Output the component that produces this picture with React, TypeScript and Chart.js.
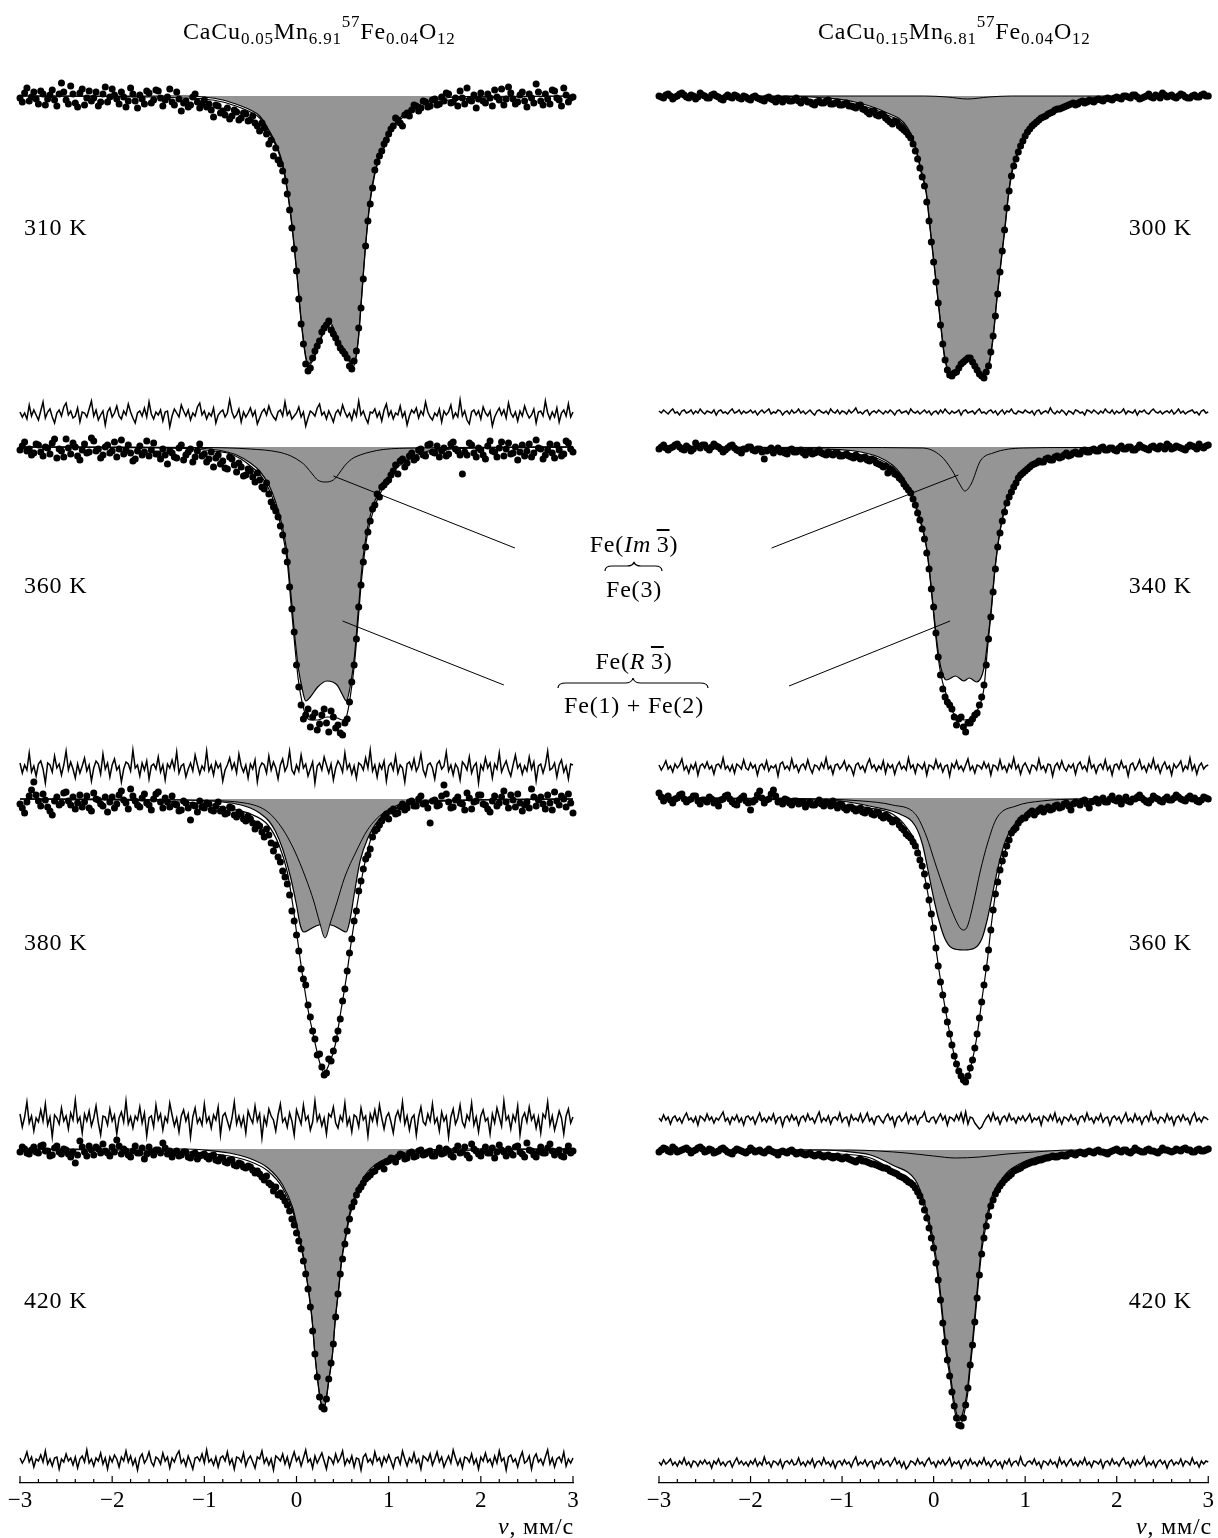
import React, { useEffect, useRef } from "react";
import { Chart, registerables } from "chart.js";

Chart.register(...registerables);

const FONT = '"Liberation Serif", "Times New Roman", serif';
const GRAY = "#959595";

// ---------- data ----------
// velocity channels, mm/s
const VELOCITY = [
  -3,-2.975,-2.95,-2.925,-2.9,-2.875,-2.85,-2.825,-2.8,-2.775,-2.75,-2.725,-2.7,-2.675,-2.65,-2.625,-2.6,-2.575,-2.55,-2.525,
  -2.5,-2.475,-2.45,-2.425,-2.4,-2.375,-2.35,-2.325,-2.3,-2.275,-2.25,-2.225,-2.2,-2.175,-2.15,-2.125,-2.1,-2.075,-2.05,-2.025,
  -2,-1.975,-1.95,-1.925,-1.9,-1.875,-1.85,-1.825,-1.8,-1.775,-1.75,-1.725,-1.7,-1.675,-1.65,-1.625,-1.6,-1.575,-1.55,-1.525,
  -1.5,-1.475,-1.45,-1.425,-1.4,-1.375,-1.35,-1.325,-1.3,-1.275,-1.25,-1.225,-1.2,-1.175,-1.15,-1.125,-1.1,-1.075,-1.05,-1.025,
  -1,-0.975,-0.95,-0.925,-0.9,-0.875,-0.85,-0.825,-0.8,-0.775,-0.75,-0.725,-0.7,-0.675,-0.65,-0.625,-0.6,-0.575,-0.55,-0.525,
  -0.5,-0.475,-0.45,-0.425,-0.4,-0.375,-0.35,-0.325,-0.3,-0.275,-0.25,-0.225,-0.2,-0.175,-0.15,-0.125,-0.1,-0.075,-0.05,-0.025,
  0,0.025,0.05,0.075,0.1,0.125,0.15,0.175,0.2,0.225,0.25,0.275,0.3,0.325,0.35,0.375,0.4,0.425,0.45,0.475,
  0.5,0.525,0.55,0.575,0.6,0.625,0.65,0.675,0.7,0.725,0.75,0.775,0.8,0.825,0.85,0.875,0.9,0.925,0.95,0.975,
  1,1.025,1.05,1.075,1.1,1.125,1.15,1.175,1.2,1.225,1.25,1.275,1.3,1.325,1.35,1.375,1.4,1.425,1.45,1.475,
  1.5,1.525,1.55,1.575,1.6,1.625,1.65,1.675,1.7,1.725,1.75,1.775,1.8,1.825,1.85,1.875,1.9,1.925,1.95,1.975,
  2,2.025,2.05,2.075,2.1,2.125,2.15,2.175,2.2,2.225,2.25,2.275,2.3,2.325,2.35,2.375,2.4,2.425,2.45,2.475,
  2.5,2.525,2.55,2.575,2.6,2.625,2.65,2.675,2.7,2.725,2.75,2.775,2.8,2.825,2.85,2.875,2.9,2.925,2.95,2.975,
  3,
];

const TEMPS_LEFT = ["310 K", "360 K", "380 K", "420 K"];
const TEMPS_RIGHT = ["300 K", "340 K", "360 K", "420 K"];

const FORMULA_LEFT: [string, string][] = [["CaCu", ""], ["0.05", "sub"], ["Mn", ""], ["6.91", "sub"], ["57", "sup"], ["Fe", ""], ["0.04", "sub"], ["O", ""], ["12", "sub"]];
const FORMULA_RIGHT: [string, string][] = [["CaCu", ""], ["0.15", "sub"], ["Mn", ""], ["6.81", "sub"], ["57", "sup"], ["Fe", ""], ["0.04", "sub"], ["O", ""], ["12", "sub"]];

// measured absorption (relative units x0.01), one value per channel
const L1_DOTS = [
  2,6,-3,-8,5,1,-4,3,8,-5,-2,9,3,-1,-6,4,10,-2,-13,-4,
  4,8,-10,-2,7,11,-3,-7,9,2,-5,5,2,-4,10,6,-2,-9,6,1,
  -7,-1,3,8,-4,1,11,5,-8,-2,5,12,-1,3,8,-5,-3,7,4,-6,
  -5,2,10,4,1,-7,6,9,-4,3,15,7,5,11,9,1,-2,6,12,8,
  4,11,8,14,21,9,10,17,15,19,12,23,20,14,16,24,22,17,18,25,
  24,20,27,30,35,27,32,38,48,44,60,52,64,68,75,85,98,114,132,153,
  175,203,228,248,268,275,272,262,255,250,245,236,232,229,225,234,238,242,247,252,
  255,258,262,270,273,265,255,232,212,183,150,125,108,92,74,66,60,55,48,44,
  38,33,30,22,24,27,30,19,17,20,14,9,10,15,12,5,6,11,10,4,
  3,9,8,1,5,-3,-2,7,6,2,10,-5,2,8,-8,4,5,-1,12,3,
  -3,5,7,-2,2,10,-6,1,4,-7,9,3,-9,-3,3,8,6,-1,-4,5,
  11,-2,2,7,-12,-4,5,9,-2,3,8,-6,-5,2,4,10,-8,-1,6,2,
  1];
const L2_DOTS = [
  3,-1,-5,4,2,8,6,-3,-2,5,9,0,1,7,-4,-8,11,2,4,10,
  -8,1,7,-4,0,9,13,3,-3,6,5,-9,-6,4,2,11,8,0,-2,6,
  4,-5,10,2,-7,7,3,-2,6,14,12,4,-1,8,5,-6,9,3,-4,7,
  7,12,2,8,17,4,6,10,11,1,-2,13,8,5,2,15,10,4,-3,9,
  7,15,12,5,20,11,8,17,14,21,22,10,12,18,25,16,20,29,28,22,
  24,30,35,26,33,40,42,36,47,55,60,64,70,79,88,104,115,140,162,185,
  218,240,258,272,268,262,280,270,266,283,277,268,262,276,285,264,270,281,278,286,
  288,276,272,255,235,218,192,160,138,115,100,85,74,62,58,47,50,40,38,35,
  33,28,24,18,27,14,12,20,16,9,6,13,11,3,2,8,9,-2,-3,5,
  6,-1,10,4,1,9,7,-3,-5,2,4,8,27,5,8,-4,-2,6,10,1,
  3,8,12,-1,-6,4,5,10,1,-5,9,2,-4,7,6,0,13,5,-2,9,
  4,-3,10,6,-7,1,2,12,8,3,-3,6,11,-2,3,9,7,-6,-4,2,
  5];
const L3_DOTS = [
  5,9,14,3,-3,-9,-17,-4,2,7,-5,1,8,12,16,2,-2,6,4,-6,
  -7,2,6,-2,10,4,-4,8,3,-3,9,12,-6,0,1,5,7,-2,13,3,
  -2,9,5,-4,-8,1,4,10,-10,-3,2,6,8,-1,-5,4,6,11,0,-5,
  -7,3,9,-1,3,8,-3,5,6,12,11,2,4,9,21,6,7,13,2,8,
  9,4,5,11,12,7,3,12,10,15,14,8,9,16,18,13,15,20,22,17,
  20,24,30,25,27,33,38,30,36,44,52,46,58,63,72,78,85,96,112,122,
  136,152,170,180,186,206,218,232,240,256,255,268,276,274,260,262,252,240,232,220,
  202,190,172,154,140,122,112,92,82,70,60,56,50,38,32,30,26,22,18,15,
  20,12,10,15,14,8,5,11,9,3,2,7,7,0,-3,5,4,9,24,2,
  1,7,6,-3,-14,-5,3,9,8,1,-2,4,5,11,-6,-1,10,3,2,-4,
  -4,5,6,10,13,2,-3,7,4,-2,-8,3,9,-4,1,8,-5,4,12,6,
  3,9,-10,-2,7,1,-2,5,10,-4,4,11,-7,2,6,-3,0,8,-5,4,
  14];
const L4_DOTS = [
  3,-2,0,4,5,1,-2,3,4,-3,-4,2,2,7,6,-1,-3,3,5,0,
  1,5,8,3,14,6,-8,-2,3,7,-3,1,6,-2,0,4,-5,2,4,7,
  -2,3,-9,-3,5,0,2,6,8,2,-3,4,4,-1,10,5,-2,3,6,1,
  1,4,-6,-1,5,2,8,4,2,7,6,3,3,8,9,5,4,10,7,6,
  5,8,10,7,6,11,12,9,9,13,14,11,11,16,17,14,15,18,19,17,
  18,21,24,22,25,28,31,27,34,36,42,38,46,44,48,52,56,62,70,76,
  84,92,100,112,125,140,158,182,205,228,248,258,260,250,230,214,195,168,145,125,
  110,95,82,70,58,53,46,41,38,34,30,28,26,23,22,18,17,15,20,13,
  12,9,10,13,8,5,6,10,9,4,3,8,7,2,1,6,5,3,2,7,
  7,3,-1,5,4,0,2,6,8,1,-3,4,3,-2,6,9,-5,0,2,5,
  7,2,-2,4,4,-1,9,3,-4,1,3,7,0,4,6,-2,-3,3,5,8,
  -6,1,2,6,8,3,-2,4,4,-1,-5,2,6,3,1,7,8,2,-3,4,
  2];
const R1_DOTS = [
  0,1,2,-1,-2,0,3,1,0,-2,-3,-1,1,2,-1,0,3,1,-3,-1,
  0,2,2,-1,-2,0,1,3,4,1,-1,1,2,-1,0,2,3,0,1,3,
  4,1,0,2,3,4,5,2,1,3,4,6,2,4,6,3,3,5,5,4,
  2,5,7,4,4,6,6,8,9,6,5,7,7,5,4,8,8,7,6,9,
  9,8,7,10,10,11,12,10,9,13,14,16,18,15,15,19,20,18,19,22,
  24,26,28,25,26,30,32,34,36,39,42,48,55,63,72,81,90,106,125,146,
  166,186,207,229,248,264,274,279,280,277,276,272,268,266,264,262,262,266,270,274,
  278,280,282,276,270,256,240,220,198,176,155,134,112,95,80,70,63,56,50,45,
  40,36,33,30,28,26,24,22,21,20,18,17,16,14,13,13,12,11,10,9,
  8,7,9,8,6,5,7,6,4,5,6,4,3,4,5,3,2,3,4,2,
  1,2,3,0,0,1,2,-1,-1,1,3,2,1,0,-2,1,2,-1,0,2,
  -3,-1,1,0,-1,1,2,0,-2,-1,1,2,2,0,-1,1,1,-1,-2,0,
  0];
const R2_DOTS = [
  2,0,-2,1,3,1,0,-2,-3,0,2,3,-1,1,4,2,-4,-1,1,-2,
  -2,1,3,0,-3,-1,0,2,5,3,1,-1,-2,1,3,4,6,2,2,0,
  0,3,4,2,2,5,12,4,3,1,6,3,1,5,4,6,7,3,2,5,
  5,4,3,6,8,5,4,7,6,5,3,6,7,8,5,7,8,6,6,9,
  9,8,7,9,10,11,8,10,12,11,10,13,14,12,13,16,17,18,20,19,
  26,22,24,27,28,31,33,37,40,43,46,52,58,66,73,82,92,106,122,142,
  160,186,210,228,242,250,255,258,262,270,278,272,270,280,285,276,276,272,268,266,
  258,250,238,218,192,170,145,122,100,86,74,65,56,50,45,40,36,31,28,26,
  24,22,20,18,17,16,14,15,15,12,11,13,13,10,9,11,10,8,6,9,
  8,6,5,7,7,4,3,5,5,3,2,4,4,1,0,3,3,1,1,3,
  4,1,-1,2,2,0,0,3,3,1,-2,0,1,2,3,0,-1,1,2,-1,
  0,2,-3,-1,2,1,-1,0,1,2,3,0,-2,-1,0,2,-3,0,1,-1,
  -2];
const R3_DOTS = [
  -5,-1,3,0,-2,2,5,1,0,-3,-4,1,4,2,1,-2,-2,3,6,2,
  2,4,-1,1,5,3,8,2,1,-2,-3,1,4,6,7,2,0,-2,3,5,
  12,4,2,-3,-7,0,5,2,1,-4,-8,-2,4,3,6,1,2,5,7,3,
  3,6,5,4,9,6,4,7,7,5,2,6,8,4,5,8,3,7,10,6,
  7,10,12,9,9,11,13,12,10,14,15,12,13,16,17,14,15,18,20,17,
  19,21,24,22,23,27,30,32,36,38,40,44,48,55,62,68,76,88,102,116,
  130,150,168,184,197,212,224,236,247,258,266,273,278,282,284,278,270,262,250,236,
  220,204,187,170,152,132,112,96,84,72,63,56,48,42,35,32,30,25,22,20,
  20,17,15,13,17,14,12,10,14,11,9,12,11,8,7,10,9,6,5,8,
  12,6,4,5,7,3,2,6,10,4,3,1,5,2,0,4,4,1,-2,2,
  3,0,6,2,-1,3,4,1,1,-1,-3,0,2,4,5,2,-2,0,1,3,
  4,1,-1,2,2,0,-3,-1,1,2,3,0,-2,1,0,3,4,2,-1,0,
  1];
const R4_DOTS = [
  2,0,-2,-1,1,2,-3,-1,2,1,0,-1,-2,0,3,1,0,-2,-3,-1,
  2,1,-1,0,3,2,1,-1,-2,0,2,3,4,1,-1,0,1,2,3,1,
  -2,0,2,1,0,2,3,1,-1,1,2,3,5,2,1,2,3,1,0,2,
  4,3,2,4,5,4,3,5,6,5,4,6,7,6,5,7,8,7,6,8,
  9,8,7,9,10,11,12,10,9,11,11,12,13,14,14,15,16,17,18,18,
  19,21,22,23,24,26,27,28,30,32,33,35,38,42,46,52,60,68,78,88,
  98,113,130,150,173,192,210,226,242,256,268,275,276,268,255,238,215,195,172,148,
  125,104,88,76,66,56,50,44,40,36,33,30,28,26,24,21,20,19,18,16,
  15,14,13,12,12,11,10,10,9,8,8,7,6,7,7,6,5,6,6,4,
  3,4,5,3,2,3,4,2,1,2,3,1,0,2,2,3,4,2,1,0,
  -1,1,2,0,0,2,3,1,-2,0,1,2,2,0,-1,1,1,2,3,1,
  -2,0,0,1,2,1,-1,0,1,-1,-2,0,0,2,2,0,-1,1,1,0,
  -1];

// fit residuals (relative units x0.01), one value per channel
const L1_RES = [
  2,-3,1,-5,9,-2,4,-1,-6,3,12,-4,2,5,-3,-9,1,4,-2,7,
  11,-1,3,-4,-2,6,-8,2,1,-3,5,13,-2,4,-6,-1,3,-11,2,6,
  -3,1,8,-2,-5,3,-1,10,2,-4,-9,1,3,-2,6,-3,12,0,-5,2,
  -1,4,-7,2,3,-13,-2,5,1,-3,9,3,-2,4,-6,1,-2,7,11,-1,
  3,-5,1,-2,6,-9,-1,2,4,-3,1,14,2,-4,-1,5,-8,2,-3,1,
  6,-2,3,-10,-4,2,5,-1,8,1,-3,-6,2,4,-2,12,-1,3,-5,-2,
  1,7,-3,2,-12,-4,3,1,-2,6,10,-1,2,-5,3,-2,-8,1,4,-1,
  9,2,-3,1,-6,4,-2,13,-1,3,-4,-9,2,1,5,-3,2,-7,4,10,
  -2,3,-5,1,-1,8,-3,2,-11,-2,4,1,6,-4,3,-1,12,2,-3,-6,
  1,-2,5,-8,3,-1,2,9,-4,1,-3,14,-2,3,-6,-10,2,4,-1,3,
  -5,7,1,-2,3,-12,-3,2,6,-1,4,-4,11,1,-3,2,-7,3,-2,8,
  1,-4,-1,5,-9,2,3,-2,13,1,-5,2,-3,6,-8,1,4,-2,10,-3,
  2];
const L2_RES = [
  4,-6,2,-3,14,-5,1,-9,3,6,-2,-16,4,2,-5,11,-1,3,-8,2,
  16,-3,5,-2,-11,3,-6,1,9,-4,2,-14,-1,6,3,-7,13,-2,4,-10,
  2,8,-3,1,-15,-2,5,3,-4,17,-1,2,-9,4,-3,6,-12,1,3,-2,
  10,-5,2,-13,3,-1,7,-2,15,-6,1,3,-10,-2,4,-4,12,2,-7,1,
  -3,16,-4,2,-8,5,-1,3,-14,-3,2,9,-2,4,-6,13,1,-5,2,-11,
  3,-2,7,-15,-1,4,2,-6,11,-3,5,-1,-12,2,8,-4,1,16,-3,-7,
  2,-4,12,-1,3,-9,-2,5,-16,1,4,-3,10,2,-6,3,-13,-1,6,2,
  -5,14,-2,3,-7,1,-11,4,2,-3,9,-1,17,-4,2,-10,3,-2,6,-14,
  1,4,-3,11,-6,2,-1,-15,3,5,-2,8,-4,1,13,-3,-9,2,4,-1,
  -12,3,6,-2,1,15,-4,2,-8,3,-1,-13,5,2,-3,10,-6,1,4,-16,
  2,-3,9,-1,4,-11,3,-2,14,-5,1,6,-3,-9,2,12,-1,3,-7,1,
  -4,10,-2,5,-14,1,3,-6,2,16,-3,-1,4,-10,2,7,-5,1,-12,3,
  2];
const L3_RES = [
  5,-8,2,17,-4,3,-12,1,-3,9,-2,15,-6,2,-18,4,1,-5,11,-2,
  3,-10,6,-1,19,-3,2,-14,5,-2,8,-7,1,13,-4,-16,3,2,-6,10,
  -2,4,-15,1,7,-3,18,-5,2,-9,3,-1,12,-4,6,-17,1,3,-8,14,
  -1,5,-11,2,-3,16,4,-7,1,-13,3,9,-2,5,-18,2,11,-4,1,-6,
  15,-3,2,-9,4,-1,12,-16,3,6,-2,-10,1,17,-5,3,-7,2,-14,8,
  1,-4,13,-2,5,-19,2,-6,10,3,-1,-12,4,15,-3,1,-8,6,-2,-16,
  9,2,-5,14,-1,3,-11,-3,18,-2,4,-7,1,-15,5,2,12,-4,-9,3,
  -2,16,-6,1,-13,4,2,-8,11,-1,3,-17,5,-2,9,-4,14,1,-10,2,
  6,-3,-14,2,8,-1,17,-5,3,-11,1,4,-16,2,12,-3,-6,5,-2,15,
  -4,1,-12,7,-2,3,-18,2,10,-5,1,14,-3,-8,4,-1,16,-6,2,-13,
  3,9,-2,1,-15,5,-4,11,2,-7,18,-1,3,-10,4,-2,13,-16,1,6,
  -3,12,-1,4,-9,2,-14,5,1,17,-6,3,-11,-2,8,1,-15,3,10,-4,
  2];
const L4_RES = [
  2,-3,1,8,-2,3,-7,1,-1,5,-2,9,-4,1,-6,2,3,-9,1,-2,
  6,-1,2,-5,3,-8,1,4,-2,10,-3,1,-6,2,-1,7,-4,2,-9,3,
  -2,5,1,-7,3,-1,9,-2,4,-5,1,-10,2,6,-3,1,8,-2,-6,3,
  1,-4,7,-1,3,-8,2,-2,5,9,-3,1,-6,4,-2,-9,2,3,-1,6,
  -3,10,-2,1,-5,3,-7,2,4,-1,8,-4,1,-9,3,2,-2,7,-6,1,
  4,-2,-8,3,1,9,-3,2,-5,1,-10,4,2,-1,6,-4,3,-7,1,8,
  -1,3,-6,2,10,-2,1,-8,4,-3,2,7,-1,-9,3,1,-4,6,-2,2,
  9,-5,1,-3,4,-7,2,1,-10,3,6,-2,1,-4,8,-1,2,-6,3,-2,
  5,-1,-8,2,3,-4,9,1,-6,2,-2,7,-3,1,-9,4,2,-1,6,-5,
  1,8,-2,3,-7,-1,4,-3,10,2,-5,1,-8,3,2,-2,6,-4,1,-9,
  3,-1,7,-2,1,-6,4,-3,9,-1,2,-10,3,5,-2,1,-7,2,8,-3,
  -1,4,-9,2,6,-2,1,-5,3,10,-4,2,-7,1,3,-2,8,-6,1,-3,
  2];
const R1_RES = [
  1,-1,2,0,-2,1,3,-1,0,-3,1,2,-1,0,2,-2,1,-1,3,0,
  -2,1,0,-1,2,-3,1,2,-1,0,-2,1,3,-1,0,2,-2,1,-1,0,
  2,-1,1,-3,0,2,-1,1,3,-2,0,-1,2,1,-3,0,1,-2,2,-1,
  0,3,-1,1,-2,0,2,-1,-3,1,2,0,-1,1,-2,3,0,-1,2,-2,
  1,0,-2,2,-1,1,4,-1,0,-2,1,2,-3,0,1,-1,2,0,-2,1,
  -1,2,0,-3,1,2,-1,0,1,-2,3,0,-1,1,-2,0,2,-1,1,-3,
  0,1,-2,2,-1,3,0,-2,1,-1,0,2,-3,1,2,-1,0,1,-2,1,
  3,-1,0,-2,1,2,-1,1,-3,0,2,-2,1,0,3,-1,-2,1,0,-1,
  2,0,-1,1,-3,1,2,-2,0,1,-1,4,0,-2,1,-1,2,0,-3,1,
  0,-2,2,1,-1,0,-3,2,1,-1,2,0,-2,1,-1,3,0,-1,2,-2,
  1,-1,0,3,-2,1,0,-1,2,-3,1,0,2,-1,-2,1,3,0,-1,1,
  -2,0,1,-1,2,-2,0,3,-1,1,-2,0,1,2,-1,0,-3,1,2,-1,
  0];
const R2_RES = [
  2,-3,1,6,-2,1,-5,3,-1,2,8,-3,1,-6,2,-2,4,-8,1,3,
  -1,5,-2,1,-7,2,3,-1,9,-2,1,-4,2,-6,3,1,-2,7,-1,-3,
  4,-1,2,-8,1,3,-2,6,-4,1,-1,2,-9,3,5,-2,1,-3,8,-1,
  2,-5,1,3,-2,7,-1,-6,2,1,-3,4,-1,9,-2,1,-7,2,3,-2,
  1,6,-3,2,-1,-8,2,4,-2,1,-5,3,8,-1,2,-4,1,-2,6,-6,
  3,-1,2,-7,1,5,-2,1,-3,9,-1,2,-6,3,1,-2,4,-8,2,1,
  -2,7,-1,3,-5,1,2,-9,3,-1,6,-2,1,-4,2,8,-3,1,-6,2,
  1,-2,5,-1,3,-8,2,1,-3,7,-2,1,-5,3,-1,9,-2,2,-7,1,
  4,-1,-6,2,1,-3,8,-2,1,-5,3,2,-9,1,4,-2,6,-1,-4,2,
  -1,3,-7,2,5,-2,1,-4,9,-1,2,-6,1,3,-2,7,-3,1,-8,2,
  3,-2,6,-1,1,-9,2,4,-3,1,7,-2,1,-5,3,-1,8,-2,2,-6,
  1,5,-2,1,-8,3,-1,2,6,-4,1,-2,9,-3,2,-7,1,4,-2,1,
  2];
const R3_RES = [
  1,-2,4,-1,2,-5,1,3,-2,1,-4,2,6,-1,1,-3,2,-6,3,1,
  -2,5,-1,2,-4,1,-1,3,7,-2,1,-5,2,-1,4,-3,1,-6,2,3,
  -1,2,-5,1,6,-2,1,-3,2,-1,5,-4,1,2,-7,1,3,-2,4,-1,
  2,-6,1,3,-2,5,-1,1,-4,2,7,-3,1,-2,3,-5,1,2,-1,6,
  -3,1,2,-6,4,-1,1,-2,5,-3,1,6,-2,1,-5,2,3,-1,-4,2,
  5,-1,2,-7,1,3,-2,1,6,-4,2,-1,3,-5,1,2,7,-2,-3,1,
  2,-4,1,5,-1,3,-6,2,1,-2,4,-1,6,-3,7,-5,2,1,-4,-7,
  -10,-8,-3,1,4,-2,6,-1,2,-5,1,3,-2,5,-1,1,-4,2,-1,3,
  -2,1,5,-3,1,-1,2,-6,3,1,-2,4,-1,6,-3,1,-5,2,1,-2,
  4,-1,1,-5,2,3,-2,6,-1,1,-4,2,-1,5,-3,1,2,-6,1,3,
  -1,2,-4,1,6,-2,1,-3,5,-1,2,-5,1,3,-2,7,-1,1,-4,2,
  1,-3,5,-1,2,-6,1,3,-2,4,-1,1,-5,2,6,-2,1,-3,2,1,
  -1];
const R4_RES = [
  1,-2,3,-1,1,4,-2,1,-3,2,-1,5,-2,1,-4,2,1,-3,2,-1,
  3,-1,1,-5,2,-1,4,-2,1,-3,1,2,-4,1,5,-1,2,-2,1,-3,
  2,-1,4,-3,1,-2,6,-1,1,-4,2,1,-2,3,-5,1,2,-1,3,-2,
  -1,5,-2,1,-3,2,-1,4,-4,1,2,-2,5,-1,1,-3,2,-5,1,2,
  -2,3,-1,1,-4,2,6,-2,1,-1,3,-3,1,2,-5,1,-1,4,-2,1,
  2,-3,1,5,-1,2,-4,1,-6,-3,2,1,-2,4,-1,1,-3,2,5,-1,
  1,-4,2,-1,3,-2,1,5,-3,1,-1,2,-5,1,3,-2,4,-1,1,-3,
  2,-1,5,-2,1,-4,1,3,-2,1,-5,2,-1,4,-3,1,2,-2,6,-1,
  -3,1,2,-1,4,-2,1,-5,2,1,-2,3,-1,1,-4,5,-1,2,-3,1,
  4,-2,1,-3,2,-1,5,-2,1,-4,2,1,-1,3,-5,1,2,-2,4,-1,
  1,-3,2,5,-1,1,-4,2,-2,3,-1,1,6,-3,1,-2,2,-4,1,3,
  -1,2,-5,1,3,-2,1,-1,4,-3,2,1,-2,5,-1,1,-4,2,-1,2,
  1];

// fitted curves [velocity mm/s, absorption x0.01]
const L1_FIT = [[-3,0],[-2,0.5],[-1.5,1],[-1.2,2],[-1,3],[-0.8,6],[-0.6,12],[-0.5,16],[-0.4,22],[-0.3,36],[-0.2,55],[-0.15,70],[-0.1,95],[-0.05,130],[0,175],[0.05,225],[0.1,262],[0.13,270],[0.2,260],[0.3,235],[0.36,228],[0.45,245],[0.55,262],[0.62,270],[0.67,245],[0.7,210],[0.75,150],[0.8,105],[0.85,78],[0.9,62],[0.95,52],[1,40],[1.1,26],[1.2,18],[1.35,10],[1.5,6],[1.8,3],[2.3,1],[3,0]];
const L1_SUB = [[-3,0],[-1.2,0],[-1,1],[-0.8,4],[-0.6,10],[-0.5,14],[-0.4,20],[-0.3,34],[-0.2,53],[-0.15,68],[-0.1,93],[-0.05,128],[0,173],[0.05,223],[0.1,260],[0.13,268],[0.2,258],[0.3,233],[0.36,226],[0.45,243],[0.55,260],[0.62,268],[0.67,243],[0.7,208],[0.75,148],[0.8,103],[0.85,76],[0.9,60],[0.95,50],[1,38],[1.1,24],[1.2,16],[1.35,8],[1.5,4],[1.8,0.5],[3,0]];

const L2_FIT = [[-3,0],[-2,0.5],[-1.2,1.5],[-0.9,4],[-0.75,6],[-0.6,12],[-0.5,19],[-0.4,27],[-0.3,42],[-0.23,59],[-0.15,87],[-0.1,115],[-0.06,156],[-0.02,197],[0.02,233],[0.06,255],[0.1,268],[0.15,273],[0.23,273],[0.33,270],[0.44,271],[0.5,273],[0.54,270],[0.58,252],[0.63,216],[0.67,172],[0.71,129],[0.77,87],[0.85,59],[0.94,41],[1.02,29],[1.1,20],[1.25,11],[1.35,7],[1.56,3],[2,1],[3,0]];
const L2_SUB = [[-3,0],[-1.2,0.5],[-1,1.5],[-0.8,4],[-0.65,8],[-0.5,16],[-0.4,24],[-0.3,38],[-0.23,54],[-0.15,81],[-0.1,108],[-0.06,148],[-0.02,188],[0.02,221],[0.06,241],[0.1,254],[0.15,250],[0.23,240],[0.33,234],[0.44,238],[0.5,248],[0.54,254],[0.58,241],[0.63,208],[0.67,164],[0.71,121],[0.77,81],[0.85,54],[0.94,38],[1.02,27],[1.1,18],[1.25,10],[1.35,6],[1.56,2],[2,0.5],[3,0]];
const L2_FE3 = [[-3,0],[-1,0.5],[-0.5,2],[-0.2,5],[-0.06,9],[0.05,15],[0.1,19],[0.18,28],[0.23,33],[0.31,35],[0.4,33],[0.45,28],[0.52,19],[0.6,12],[0.69,8],[0.8,5],[0.94,2.5],[1.3,1],[3,0]];

const L3_FIT = [[-3,0],[-2,1],[-1.5,2],[-1,5],[-0.7,10],[-0.5,15],[-0.31,26],[-0.19,46],[-0.1,73],[-0.04,106],[0,133],[0.06,173],[0.13,213],[0.19,239],[0.25,263],[0.3,274],[0.35,266],[0.42,246],[0.48,213],[0.54,179],[0.6,139],[0.67,99],[0.73,69],[0.81,39],[0.94,19],[1.1,9],[1.35,4],[1.8,1.5],[3,0]];
const L3_SUB = [[-3,0],[-1.2,1],[-0.8,3],[-0.6,6],[-0.5,9],[-0.4,14],[-0.3,22],[-0.23,32],[-0.15,50],[-0.06,80],[0,106],[0.04,126],[0.08,133],[0.15,130],[0.21,127],[0.31,125],[0.41,127],[0.47,130],[0.54,133],[0.58,121],[0.63,93],[0.69,62],[0.77,40],[0.9,20],[1,13],[1.1,8],[1.35,3],[2,0.5],[3,0]];
const L3_FE3 = [[-3,0],[-1.5,0.5],[-1,1.5],[-0.56,4],[-0.31,13],[-0.15,30],[-0.02,52],[0.1,79],[0.19,103],[0.25,123],[0.31,139],[0.37,123],[0.44,103],[0.52,79],[0.65,52],[0.77,31],[0.94,14],[1.19,4],[1.6,1.5],[3,0]];

const L4_FIT = [[-3,0],[-2,1],[-1.5,2],[-1,4],[-0.73,7],[-0.52,12],[-0.31,22],[-0.15,39],[-0.04,62],[0.02,86],[0.08,112],[0.125,139],[0.17,172],[0.2,206],[0.23,232],[0.26,252],[0.29,261],[0.32,252],[0.35,232],[0.39,206],[0.42,172],[0.46,139],[0.49,112],[0.54,86],[0.58,66],[0.67,42],[0.77,26],[0.94,14],[1.15,7],[1.35,4],[2,1],[3,0]];
const L4_SUB = [[-3,0],[-1.2,0],[-1,1],[-0.73,4],[-0.52,9],[-0.31,19],[-0.15,36],[-0.04,59],[0.02,83],[0.08,110],[0.125,137],[0.17,171],[0.2,205],[0.23,231],[0.26,251],[0.29,260],[0.32,251],[0.35,231],[0.39,205],[0.42,171],[0.46,137],[0.49,110],[0.54,83],[0.58,63],[0.67,39],[0.77,23],[0.94,11],[1.15,5],[1.35,2],[1.6,0],[3,0]];

const R1_FIT = [[-3,0],[-2,1],[-1.5,3],[-1.18,5],[-0.86,8],[-0.53,18],[-0.29,33],[-0.2,52],[-0.14,75],[-0.08,98],[-0.04,132],[0,165],[0.04,198],[0.08,232],[0.12,262],[0.18,278],[0.25,277],[0.32,268],[0.39,263],[0.46,270],[0.53,280],[0.61,267],[0.65,242],[0.69,205],[0.73,172],[0.78,132],[0.82,98],[0.86,75],[0.92,58],[0.98,42],[1.1,28],[1.27,18],[1.59,8],[2,3],[2.5,1],[3,0]];
const R1_SUB = [[-3,0],[-1.5,0.5],[-1.18,2],[-0.86,6],[-0.53,16],[-0.29,31],[-0.2,50],[-0.14,73],[-0.08,96],[-0.04,130],[0,163],[0.04,196],[0.08,230],[0.12,260],[0.18,276],[0.25,275],[0.32,266],[0.39,261],[0.46,268],[0.53,278],[0.61,265],[0.65,240],[0.69,203],[0.73,170],[0.78,130],[0.82,96],[0.86,73],[0.92,56],[0.98,40],[1.1,26],[1.27,15],[1.59,4],[2,1],[3,0]];
const R1_FE3 = [[-3,0],[-0.1,0],[0.15,1],[0.37,3],[0.6,1],[0.85,0],[3,0]];

const R2_FIT = [[-3,0],[-1.5,2],[-1.2,4],[-0.86,7],[-0.6,12],[-0.45,20],[-0.35,30],[-0.27,43],[-0.16,70],[-0.08,100],[-0.04,130],[0,167],[0.04,203],[0.08,228],[0.14,248],[0.2,264],[0.27,270],[0.33,273],[0.41,271],[0.49,261],[0.55,241],[0.59,200],[0.63,164],[0.67,123],[0.73,82],[0.8,55],[0.86,42],[0.98,25],[1.18,14],[1.4,8],[1.59,5],[2,2],[3,0]];
const R2_SUB = [[-3,0],[-1.5,1],[-1.2,2],[-0.86,4],[-0.6,10],[-0.45,18],[-0.35,28],[-0.27,41],[-0.16,68],[-0.08,98],[-0.04,128],[0,164],[0.04,198],[0.08,221],[0.14,233],[0.24,229],[0.33,234],[0.39,231],[0.47,235],[0.55,221],[0.59,194],[0.63,161],[0.67,121],[0.73,81],[0.8,54],[0.86,41],[0.98,24],[1.18,13],[1.4,7],[1.59,4],[1.8,1.5],[2.2,0.5],[3,0]];
const R2_FE3 = [[-3,0],[-1,0.5],[-0.12,1],[0.08,9],[0.2,23],[0.29,38],[0.34,44],[0.41,37],[0.51,14],[0.65,6],[0.98,1],[1.5,0.5],[3,0]];

const R3_FIT = [[-3,0],[-2,1],[-1.5,3],[-1,7],[-0.7,10],[-0.45,16],[-0.29,30],[-0.16,53],[-0.08,87],[-0.02,120],[0.02,147],[0.06,173],[0.12,207],[0.18,237],[0.24,263],[0.31,280],[0.35,282],[0.41,267],[0.47,240],[0.53,200],[0.59,160],[0.63,127],[0.69,87],[0.76,60],[0.82,43],[0.92,27],[1.1,15],[1.39,8],[1.8,4],[2.41,2],[3,0]];
const R3_SUB = [[-3,0],[-1.6,1.5],[-1.02,3],[-0.65,9],[-0.37,16],[-0.2,28],[-0.12,47],[-0.06,73],[0,100],[0.06,123],[0.12,140],[0.2,150],[0.33,152],[0.45,150],[0.53,140],[0.59,120],[0.65,93],[0.71,67],[0.78,44],[0.86,29],[0.98,18],[1.18,10],[1.59,4],[2.2,1],[3,0]];
const R3_FE3 = [[-3,0],[-1.5,0.5],[-0.78,3],[-0.45,7],[-0.2,16],[-0.08,38],[0.02,66],[0.12,93],[0.2,113],[0.29,130],[0.33,132],[0.37,128],[0.43,107],[0.51,73],[0.59,45],[0.69,20],[0.9,8],[1.18,3],[1.59,1],[3,0]];

const R4_FIT = [[-3,0],[-2,1],[-1.5,2],[-1.02,4],[-0.69,8],[-0.45,20],[-0.2,35],[-0.12,52],[-0.06,72],[0,98],[0.04,122],[0.07,145],[0.1,172],[0.14,205],[0.18,228],[0.22,255],[0.28,277],[0.33,265],[0.37,245],[0.4,218],[0.43,192],[0.46,162],[0.49,132],[0.53,98],[0.59,68],[0.65,48],[0.73,35],[0.82,25],[0.98,15],[1.18,10],[1.59,4],[2.2,2],[3,0]];
const R4_SUB = [[-3,0],[-1.2,0],[-1.02,1],[-0.69,5],[-0.45,15],[-0.2,30],[-0.12,47],[-0.06,67],[0,92],[0.04,116],[0.07,139],[0.1,166],[0.14,199],[0.18,222],[0.22,249],[0.28,271],[0.33,259],[0.37,239],[0.4,212],[0.43,186],[0.46,156],[0.49,126],[0.53,92],[0.59,63],[0.65,43],[0.73,31],[0.82,21],[0.98,12],[1.18,6],[1.59,1],[2,0],[3,0]];
const R4_FE3 = [[-3,0],[-0.9,0],[-0.6,1],[-0.3,3],[0,6],[0.24,8],[0.5,7],[0.8,4],[1.1,2],[1.5,0],[3,0]];

// leader lines for the 2nd spectrum [velocity, absorption]
const LEADERS_LEFT = [[[0.4, 29], [2.37, 101]], [[0.5, 174], [2.25, 238]]];
const LEADERS_RIGHT = [[[0.27, 28], [-1.77, 101]], [[0.18, 174], [-1.58, 239]]];

// ---------- layout ----------
const PAGE_W = 1218;
const PAGE_H = 1538;
const PLOT_TOP = 60;
const PLOT_BOTTOM = 1483;
const AXIS_H = 40;
const V_MIN = -3;
const V_MAX = 3;
const MINOR_STEP = 0.2;

type Row = { sub: number[][]; fe3: number[][] | null; fit: number[][]; dots: number[]; res: number[] };
type Column = {
  canvasLeft: number; canvasWidth: number; plotLeft: number; plotRight: number;
  baselines: number[]; residuals: number[]; rows: Row[]; leaders: number[][][]; leaderRow: number;
};

const COL_LEFT: Column = {
  canvasLeft: 0, canvasWidth: 600, plotLeft: 20, plotRight: 573,
  baselines: [96, 447, 799, 1149], residuals: [414, 767, 1119, 1460],
  rows: [
    { sub: L1_SUB, fe3: null, fit: L1_FIT, dots: L1_DOTS, res: L1_RES },
    { sub: L2_SUB, fe3: L2_FE3, fit: L2_FIT, dots: L2_DOTS, res: L2_RES },
    { sub: L3_SUB, fe3: L3_FE3, fit: L3_FIT, dots: L3_DOTS, res: L3_RES },
    { sub: L4_SUB, fe3: null, fit: L4_FIT, dots: L4_DOTS, res: L4_RES },
  ],
  leaders: LEADERS_LEFT, leaderRow: 1,
};
const COL_RIGHT: Column = {
  canvasLeft: 610, canvasWidth: 608, plotLeft: 659, plotRight: 1211,
  baselines: [96, 447, 798, 1150], residuals: [412, 767, 1119, 1463],
  rows: [
    { sub: R1_SUB, fe3: R1_FE3, fit: R1_FIT, dots: R1_DOTS, res: R1_RES },
    { sub: R2_SUB, fe3: R2_FE3, fit: R2_FIT, dots: R2_DOTS, res: R2_RES },
    { sub: R3_SUB, fe3: R3_FE3, fit: R3_FIT, dots: R3_DOTS, res: R3_RES },
    { sub: R4_SUB, fe3: R4_FE3, fit: R4_FIT, dots: R4_DOTS, res: R4_RES },
  ],
  leaders: LEADERS_RIGHT, leaderRow: 1,
};

const isMajor = (v: number) => Math.abs(v - Math.round(v)) < 1e-6;

const innerTicks = {
  id: "innerTicks",
  afterDraw(chart: any) {
    const s = chart.scales.x;
    const ctx = chart.ctx;
    const y = chart.chartArea.bottom;
    ctx.save();
    ctx.strokeStyle = "#000";
    ctx.lineWidth = 1.2;
    s.ticks.forEach((t: any) => {
      const x = s.getPixelForValue(t.value);
      ctx.beginPath();
      ctx.moveTo(x, y);
      ctx.lineTo(x, y - (isMajor(t.value) ? 7 : 4));
      ctx.stroke();
    });
    ctx.restore();
  },
};

function makeChart(canvas: HTMLCanvasElement, col: Column) {
  const datasets: any[] = [];
  col.rows.forEach((row, r) => {
    const base = col.baselines[r];
    const resBase = col.residuals[r];
    const curve = (pts: number[][]) => pts.map(([v, a]) => ({ x: v, y: base + a }));
    datasets.push({
      data: curve(row.sub), borderColor: "#000", borderWidth: 1.2, backgroundColor: GRAY,
      fill: { value: base }, pointRadius: 0, cubicInterpolationMode: "monotone", order: 6, clip: false,
    });
    if (row.fe3) {
      datasets.push({
        data: curve(row.fe3), borderColor: "#000", borderWidth: 1, backgroundColor: GRAY,
        fill: { value: base }, pointRadius: 0, cubicInterpolationMode: "monotone", order: 5, clip: false,
      });
    }
    datasets.push({
      data: curve(row.fit), borderColor: "#000", borderWidth: 1.2, fill: false,
      pointRadius: 0, cubicInterpolationMode: "monotone", order: 4, clip: false,
    });
    datasets.push({
      data: VELOCITY.map((v, i) => ({ x: v, y: resBase - row.res[i] })),
      borderColor: "#000", borderWidth: 1.5, fill: false, pointRadius: 0, tension: 0, order: 2, clip: false,
    });
    datasets.push({
      data: VELOCITY.map((v, i) => ({ x: v, y: base + row.dots[i] })),
      showLine: false, pointRadius: 3.5, pointBackgroundColor: "#000", pointBorderColor: "#000",
      pointBorderWidth: 0, order: 1, clip: false,
    });
  });
  col.leaders.forEach((seg) => {
    datasets.push({
      data: seg.map(([v, a]) => ({ x: v, y: col.baselines[col.leaderRow] + a })),
      borderColor: "#000", borderWidth: 1, pointRadius: 0, fill: false, tension: 0, order: 3, clip: false,
    });
  });

  const ticks: number[] = [];
  for (let k = 0; k <= Math.round((V_MAX - V_MIN) / MINOR_STEP); k++) {
    ticks.push(Math.round((V_MIN + k * MINOR_STEP) * 10) / 10);
  }

  return new Chart(canvas, {
    type: "line",
    data: { datasets },
    options: {
      animation: false,
      responsive: false,
      devicePixelRatio: 1,
      events: [],
      layout: {
        padding: {
          left: col.plotLeft - col.canvasLeft,
          right: col.canvasLeft + col.canvasWidth - col.plotRight,
          top: PLOT_TOP,
          bottom: PAGE_H - PLOT_BOTTOM - AXIS_H,
        },
      },
      plugins: { legend: { display: false }, tooltip: { enabled: false } },
      scales: {
        x: {
          type: "linear",
          min: V_MIN,
          max: V_MAX,
          position: "bottom",
          afterBuildTicks: (s: any) => { s.ticks = ticks.map((v) => ({ value: v })); },
          afterFit: (s: any) => { s.height = AXIS_H; },
          ticks: {
            autoSkip: false, maxRotation: 0, minRotation: 0, padding: 4, color: "#000",
            font: { family: FONT, size: 23 },
            callback: (value: any) => {
              const v = Number(value);
              if (!isMajor(v)) return "";
              const n = Math.round(v);
              return n < 0 ? "\u2212" + Math.abs(n) : String(n);
            },
          },
          grid: { display: false, drawTicks: false },
          border: { display: true, color: "#000", width: 1.3 },
        },
        y: { type: "linear", min: PLOT_TOP, max: PLOT_BOTTOM, reverse: true, display: false },
      },
    } as any,
    plugins: [innerTicks],
  });
}

const baseText: React.CSSProperties = {
  position: "absolute", fontFamily: FONT, fontSize: 24, lineHeight: "24px",
  whiteSpace: "nowrap", color: "#000", letterSpacing: 0.8,
};

function Formula({ parts, left }: { parts: [string, string][]; left: number }) {
  return (
    <div style={{ ...baseText, left, top: 19 }}>
      {parts.map(([t, k], i) =>
        k === "" ? <span key={i}>{t}</span> : (
          <span key={i} style={{ fontSize: 17, position: "relative", top: k === "sub" ? 5 : -12 }}>{t}</span>
        )
      )}
    </div>
  );
}

const TEMP_TOPS = [215, 573, 930, 1288];

export default function App() {
  const leftRef = useRef<HTMLCanvasElement>(null);
  const rightRef = useRef<HTMLCanvasElement>(null);

  useEffect(() => {
    const charts = [makeChart(leftRef.current!, COL_LEFT), makeChart(rightRef.current!, COL_RIGHT)];
    return () => charts.forEach((c) => c.destroy());
  }, []);

  const bar: React.CSSProperties = { textDecoration: "overline" };
  const center: React.CSSProperties = { transform: "translateX(-50%)" };
  const rightAlign: React.CSSProperties = { transform: "translateX(-100%)" };

  return (
    <div style={{ position: "absolute", left: 0, top: 0, width: PAGE_W, height: PAGE_H, background: "#fff", overflow: "hidden" }}>
      <canvas ref={leftRef} width={COL_LEFT.canvasWidth} height={PAGE_H}
        style={{ position: "absolute", left: COL_LEFT.canvasLeft, top: 0, width: COL_LEFT.canvasWidth, height: PAGE_H }} />
      <canvas ref={rightRef} width={COL_RIGHT.canvasWidth} height={PAGE_H}
        style={{ position: "absolute", left: COL_RIGHT.canvasLeft, top: 0, width: COL_RIGHT.canvasWidth, height: PAGE_H }} />

      <Formula parts={FORMULA_LEFT} left={183} />
      <Formula parts={FORMULA_RIGHT} left={818} />

      {TEMPS_LEFT.map((t, i) => (
        <div key={"tl" + i} style={{ ...baseText, left: 24, top: TEMP_TOPS[i] }}>{t}</div>
      ))}
      {TEMPS_RIGHT.map((t, i) => (
        <div key={"tr" + i} style={{ ...baseText, left: 1192, top: TEMP_TOPS[i], ...rightAlign }}>{t}</div>
      ))}

      <div style={{ ...baseText, left: 634, top: 532, ...center }}>
        Fe(<i>Im</i>{"\u2009"}<span style={bar}>3</span>)
      </div>
      <div style={{ ...baseText, left: 634, top: 577, ...center }}>Fe(3)</div>
      <div style={{ ...baseText, left: 634, top: 649, ...center }}>
        Fe(<i>R</i>{"\u2009"}<span style={bar}>3</span>)
      </div>
      <div style={{ ...baseText, left: 634, top: 693, ...center }}>Fe(1) + Fe(2)</div>

      <svg width={PAGE_W} height={PAGE_H} style={{ position: "absolute", left: 0, top: 0, pointerEvents: "none" }}>
        <path d="M605,571 Q605,566 612,566 L627,566 Q633,566 634,562 Q635,566 641,566 L655,566 Q662,566 662,571"
          fill="none" stroke="#000" strokeWidth={1.2} />
        <path d="M558,688 Q558,683 566,683 L625,683 Q632,683 633,678 Q634,683 641,683 L700,683 Q708,683 708,688"
          fill="none" stroke="#000" strokeWidth={1.2} />
      </svg>

      <div style={{ ...baseText, left: 574, top: 1514, ...rightAlign }}>
        <i>v</i>, мм/с
      </div>
      <div style={{ ...baseText, left: 1212, top: 1514, ...rightAlign }}>
        <i>v</i>, мм/с
      </div>
    </div>
  );
}
